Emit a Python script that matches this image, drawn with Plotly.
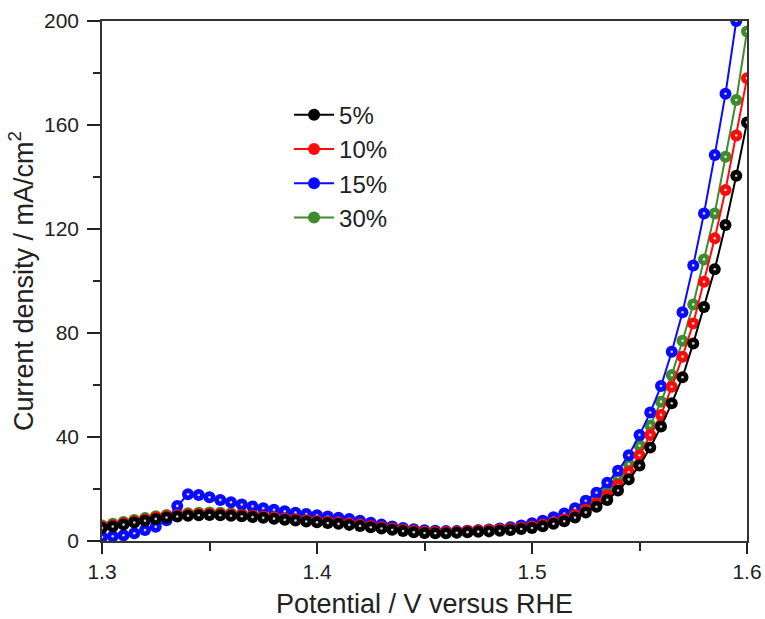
import plotly.graph_objects as go

potential = [round(1.300 + 0.005 * i, 3) for i in range(61)]

j_5 = [5.0, 5.6, 6.3, 7.1, 7.8, 8.5, 9.0, 9.4, 9.7, 9.9,
       10.0, 9.9, 9.7, 9.5, 9.2, 8.9, 8.6, 8.2, 7.9, 7.5,
       7.2, 6.9, 6.6, 6.2, 5.8, 5.3, 4.8, 4.3, 3.8, 3.4,
       3.1, 3.0, 3.0, 3.2, 3.4, 3.6, 3.7, 3.9, 4.2, 4.6,
       5.0, 5.7, 6.6, 7.6, 9.0, 11.0, 13.2, 15.8, 19.4, 23.7,
       29.0, 36.0, 44.0, 53.0, 63.0, 76.0, 90.0, 104.5, 121.5, 140.5,
       161.0]

j_10 = [5.5, 6.1, 6.8, 7.6, 8.3, 9.0, 9.5, 9.9, 10.2, 10.4,
        10.5, 10.4, 10.2, 10.0, 9.7, 9.4, 9.1, 8.7, 8.4, 8.0,
        7.7, 7.4, 7.1, 6.7, 6.3, 5.8, 5.3, 4.8, 4.3, 3.9,
        3.6, 3.5, 3.5, 3.6, 3.8, 4.0, 4.2, 4.4, 4.7, 5.1,
        5.6, 6.3, 7.2, 8.3, 10.0, 12.0, 14.5, 17.5, 21.5, 26.5,
        33.0, 40.8, 48.5, 59.3, 70.9, 83.7, 99.7, 116.4, 135.0, 156.0,
        178.0]

j_15 = [1.5, 1.8, 2.2, 3.0, 4.2, 5.5, 8.0, 13.5, 18.0, 17.7,
        16.8, 15.8, 14.9, 14.0, 13.3, 12.6, 12.0, 11.4, 10.9, 10.4,
        9.9, 9.4, 8.9, 8.5, 7.8, 7.0, 6.3, 5.6, 5.0, 4.5,
        4.1, 3.9, 3.8, 3.8, 3.9, 4.1, 4.4, 4.8, 5.3, 6.0,
        6.8, 7.8, 9.1, 10.6, 12.6, 15.5, 18.6, 22.4, 27.0, 33.0,
        40.8, 49.4, 59.6, 72.8, 88.0, 106.0, 126.0, 148.5, 172.0, 200.0,
        228.0]

j_30 = [6.0, 6.6, 7.3, 8.1, 8.8, 9.5, 10.0, 10.4, 10.7, 10.9,
        11.0, 10.9, 10.7, 10.5, 10.2, 9.9, 9.6, 9.2, 8.9, 8.5,
        8.2, 7.9, 7.5, 7.1, 6.6, 6.1, 5.5, 5.0, 4.5, 4.0,
        3.7, 3.6, 3.6, 3.7, 3.9, 4.1, 4.3, 4.6, 5.0, 5.5,
        6.1, 6.9, 7.9, 9.2, 11.5, 14.0, 17.0, 20.5, 24.7, 29.6,
        36.7, 44.4, 53.6, 63.8, 77.0, 91.0, 108.3, 126.0, 147.8, 169.6,
        196.0]

# (legend label, values, line/marker colour, legend rank)
series = [
    ("30%", j_30, "#3f8a2c", 4),
    ("15%", j_15, "#0a0aff", 3),
    ("10%", j_10, "#ff0a0a", 2),
    ("5%", j_5, "#000000", 1),
]

fig = go.Figure()
for name, ys, color, rank in series:
    fig.add_trace(go.Scatter(
        x=potential, y=ys, name=name, mode="lines+markers",
        legendgroup=name,
        line=dict(color=color, width=2),
        marker=dict(size=12, color=color, line=dict(width=0)),
        legendrank=rank,
    ))
    # small specular highlight on each sphere
    fig.add_trace(go.Scatter(
        x=potential, y=ys, mode="markers", legendgroup=name,
        showlegend=False, hoverinfo="skip",
        marker=dict(size=2.6, color="rgba(255,255,255,0.8)", line=dict(width=0)),
    ))

font_family = "Liberation Sans, Arial, sans-serif"
fig.update_layout(
    width=765, height=619,
    margin=dict(l=102, r=18, t=21, b=78, autoexpand=False),
    paper_bgcolor="white", plot_bgcolor="white",
    font=dict(family=font_family, color="#222222"),
    showlegend=True,
    legend=dict(x=0.29, y=0.862, xanchor="left", yanchor="top",
                font=dict(size=24, color="#222222"),
                bgcolor="rgba(0,0,0,0)", itemwidth=40,
                tracegroupgap=0),
    xaxis=dict(range=[1.3, 1.6], tickvals=[1.3, 1.4, 1.5, 1.6],
               ticktext=["1.3", "1.4", "1.5", "1.6"],
               ticks="outside", ticklen=11, tickwidth=1.5, tickcolor="#222",
               minor=dict(tickvals=[1.35, 1.45, 1.55], ticks="outside",
                          ticklen=8, tickwidth=1.5, tickcolor="#222"),
               showline=True, linecolor="#333", linewidth=1.5, mirror=True,
               showgrid=False, zeroline=False, automargin=False,
               tickfont=dict(size=21),
               title=dict(text="Potential / V versus RHE", font=dict(size=27),
                          standoff=17)),
    yaxis=dict(range=[0, 200], tickvals=[0, 40, 80, 120, 160, 200],
               ticks="outside", ticklen=13, tickwidth=1.5, tickcolor="#222",
               minor=dict(tickvals=[20, 60, 100, 140, 180], ticks="outside",
                          ticklen=7, tickwidth=1.5, tickcolor="#222"),
               showline=True, linecolor="#333", linewidth=1.5, mirror=True,
               showgrid=False, zeroline=False, automargin=False,
               tickfont=dict(size=21), ticklabelstandoff=4,
               title=dict(text="Current density / mA/cm<sup>2</sup>",
                          font=dict(size=27), standoff=3)),
)

fig.write_html("out.html",
               config={"displayModeBar": False},
               post_script="document.body.style.margin='0';"
                           "document.body.style.overflow='hidden';")
